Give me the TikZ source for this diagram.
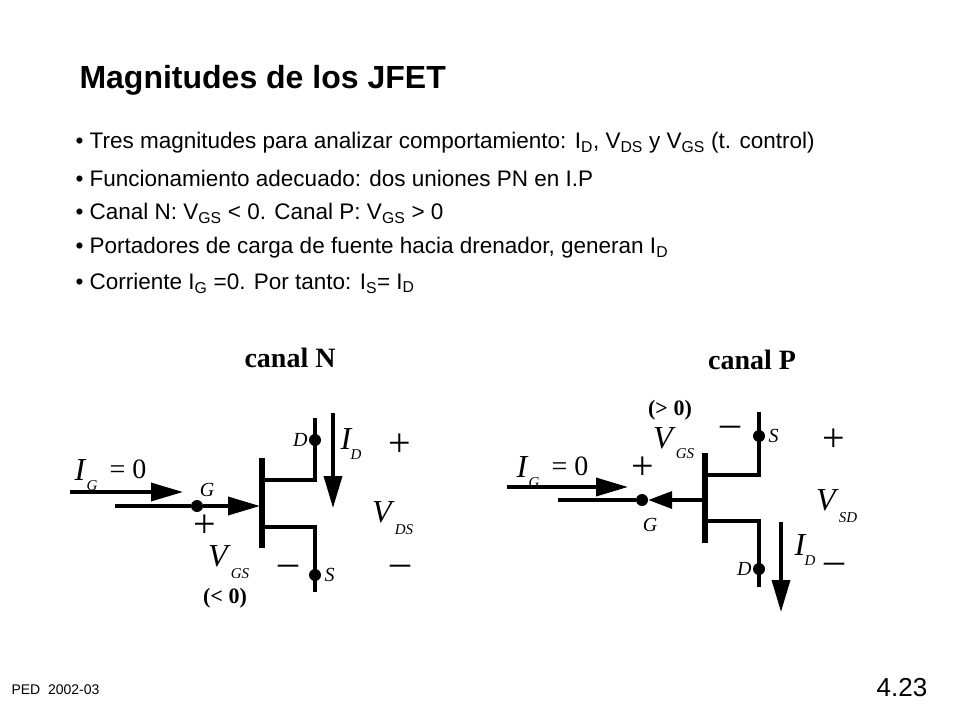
\documentclass[tikz,border=0pt]{standalone}
\usepackage{fontspec}
\setmainfont{Liberation Serif}
\setsansfont{Liberation Sans}
\usetikzlibrary{arrows.meta}

\tikzset{
  wire/.style={line width=3.5pt},
  bigarrow/.style={line width=3.5pt, -{Triangle[length=32pt,width=18pt]}},
  dot/.style={circle, fill, inner sep=0pt, minimum size=12pt},
  lbl/.style={font=\fontsize{26}{26}\selectfont\itshape},
  big/.style={font=\fontsize{32}{32}\selectfont\itshape},
  sub/.style={font=\fontsize{15}{15}\selectfont\itshape},
  sign/.style={font=\fontsize{40}{40}\selectfont},
  bullet/.style={anchor=west, font=\sffamily\fontsize{22.5}{22.5}\selectfont},
}

\begin{document}
\begin{tikzpicture}[x=1pt, y=-1pt]
			\useasboundingbox (0,0) rectangle (960,720);
			\node[anchor=west, font=\sffamily\bfseries\fontsize{32}{32}\selectfont] (title) at (76,80) {Magnitudes de los JFET};
			
			\node[bullet] (b1) at (72,143) {\textbullet\ Tres magnitudes para analizar comportamiento: I\textsubscript{D}, V\textsubscript{DS} y V\textsubscript{GS} (t. control)};
			\node[bullet] (b2) at (72,178) {\textbullet\ Funcionamiento adecuado: dos uniones PN en I.P};
			\node[bullet] (b3) at (72,213) {\textbullet\ Canal N: V\textsubscript{GS} < 0. Canal P: V\textsubscript{GS} > 0};
			\node[bullet] (b4) at (72,248) {\textbullet\ Portadores de carga de fuente hacia drenador, generan I\textsubscript{D}};
			\node[bullet] (b5) at (72,283) {\textbullet\ Corriente I\textsubscript{G} =0. Por tanto: I\textsubscript{S}= I\textsubscript{D}};
			
			\node[anchor=west, font=\sffamily\fontsize{14}{14}\selectfont] (ped) at (8,690) {PED\ \ 2002-03};
			\node[font=\sffamily\fontsize{26}{26}\selectfont] (num) at (902,688) {4.23};
			
			% canal N
			\node[font=\bfseries\fontsize{28}{28}\selectfont] (tn) at (290,358) {canal N};
			\draw[line width=6pt] (262,458) coordinate (nbt) -- (262,548) coordinate (nbb);
			\coordinate (nd) at (315,418); \coordinate (ns) at (315,592);
			\draw[wire] (262,480) -| (nd);
			\draw[wire] (262,527) -| (ns);
			\node[dot] (nD) at (315,440) {}; \node[lbl, left, inner sep=1pt, font=\fontsize{20}{20}\selectfont\itshape] at (nD.west) {D};
			\node[dot] (nS) at (315,575) {}; \node[lbl, right, font=\fontsize{20}{20}\selectfont\itshape] at (nS.east) {S};
			\coordinate (ngin) at (115,506);
			\node[dot] (nG) at (197,506) {}; \node[lbl, font=\fontsize{20}{20}\selectfont\itshape] at (207,490) {G};
			\draw[wire] (ngin) -- (nG);
			\draw[bigarrow] (nG) -- (260,506);
			\coordinate (nig) at (70,492);
			\draw[bigarrow] (nig) -- (183,492);
			\node[big] (nIG) at (80,470) {I}; \node[sub] at (92,486) {G};
			\node[font=\fontsize{28}{28}\selectfont] at (128,469) {= 0};
			\draw[bigarrow] (333,413) -- (333,508);
			\node[big] at (346,439) {I}; \node[sub] at (356,455) {D};
			\node[sign] at (400,445) {+}; \node[sign] at (400,570) {--};
			\node[big] at (382,512) {V}; \node[sub] at (404,530) {DS};
			\node[sign] at (205,526) {+}; \node[sign] at (288,570) {--};
			\node[big] at (218,556) {V}; \node[sub] at (240,574) {GS};
			\node[font=\bfseries\fontsize{22}{22}\selectfont] at (225,598) {(< 0)};
			
			% canal P
			\node[font=\bfseries\fontsize{28}{28}\selectfont] (tp) at (752,360) {canal P};
			\draw[line width=6pt] (705,453) -- (705,543);
			\coordinate (ps) at (759,412); \coordinate (pd) at (759,587);
			\draw[wire] (705,475) -| (ps);
			\draw[wire] (705,521) -| (pd);
			\node[dot] (pS) at (759,436) {}; \node[lbl, right, font=\fontsize{20}{20}\selectfont\itshape] at (pS.east) {S};
			\node[dot] (pD) at (759,569) {}; \node[lbl, left, inner sep=1pt, font=\fontsize{20}{20}\selectfont\itshape] at (pD.west) {D};
			\coordinate (pgin) at (558,500); \coordinate (pbar) at (703,500);
			\node[dot] (pG) at (642,500) {}; \node[lbl, font=\fontsize{20}{20}\selectfont\itshape] at (650,525) {G};
			\draw[wire] (pgin) -- (pG);
			\draw[line width=3.5pt, -{Triangle[length=24pt,width=17pt]}] (pbar) -- (pG.east);
			\draw[bigarrow] (507,487) -- (628,487);
			\node[big] at (522,467) {I}; \node[sub] at (534,483) {G};
			\node[font=\fontsize{28}{28}\selectfont] at (570,466) {= 0};
			\draw[bigarrow] (781,522) -- (781,612);
			\node[big] at (800,545) {I}; \node[sub] at (810,561) {D};
			\node[sign] at (834,440) {+}; \node[sign] at (834,568) {--};
			\node[big] at (826,500) {V}; \node[sub] at (848,518) {SD};
			\node[sign] at (643,468) {+}; \node[sign] at (730,431) {--};
			\node[big] at (663,438) {V}; \node[sub] at (685,454) {GS};
			\node[font=\bfseries\fontsize{22}{22}\selectfont] at (670,410) {(> 0)};
		\end{tikzpicture}
\end{document}
